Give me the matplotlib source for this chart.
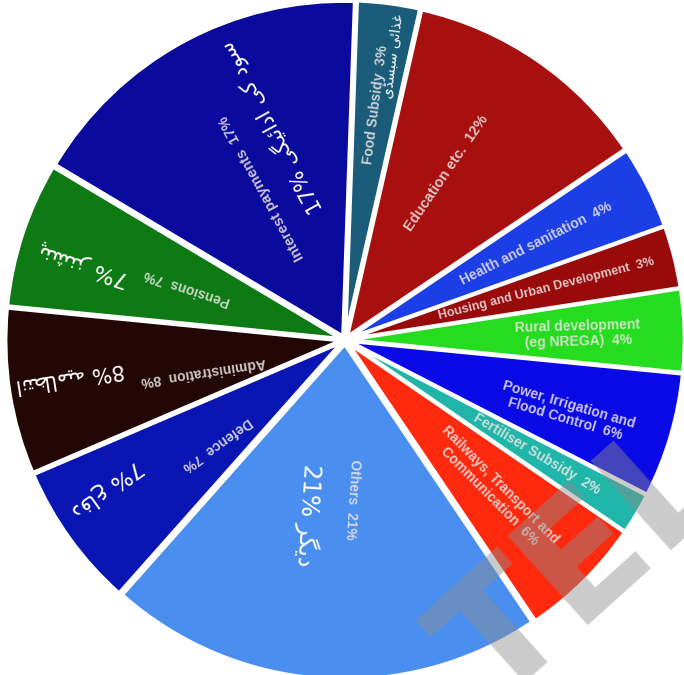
import math
import matplotlib
matplotlib.use("Agg")
import matplotlib.pyplot as plt

# ---------------- data ----------------
categories = ["Food Subsidy", "Education etc.", "Health and sanitation",
              "Housing and Urban Development", "Rural development\n(eg NREGA)",
              "Power, Irrigation and\nFlood Control", "Fertiliser Subsidy",
              "Railways, Transport and\nCommunication", "Others", "Defence",
              "Administration", "Pensions", "Interest payments"]
values = [3, 12, 4, 3, 4, 6, 2, 6, 21, 7, 8, 7, 17]
urdu_labels = ["غذائی سبسڈی", None, None, None, None, None, None, None,
               "دیگر", "دفاع", "انتظامیہ", "پنشنز", "سود کی ادائیگی"]
urdu_show_pct = [False, False, False, False, False, False, False, False,
                 True, True, True, True, True]

# ---------------- style ----------------
colors = ['#1b5c7a', '#a80f0f', '#1c3ee6', '#990a0a', '#26dc1e', '#0a0ae6',
          '#1fb5a8', '#ff2a0e', '#4a8ef0', '#0a16b4', '#230606', '#0d7a14',
          '#0a0a9c']
# (radial distance px, perpendicular offset px, fontsize)
en_pos = [(237, 0, 10), (195, -10, 10.5), (214, 0, 10), (208, 0, 9),
          (233, 0, 10), (233, 6, 10), (223, 0, 10), (212, 0, 10),
          (159, -18, 10), (165, -10, 10), (145, -10, 10), (166, 0, 10),
          (173, 0, 10.5)]
ur_pos = [(288, 11, 10), None, None, None, None, None, None, None,
          (177, 25, 17), (280, 19, 16), (277, 5, 15), (272, -10, 16),
          (222, 37, 15)]

UNIT = 335.0  # pixels per data unit (radius)

# Arabic presentation forms: isolated, final, initial, medial
_F = {
    'ا': (0xFE8D, 0xFE8E, None, None),
    'ب': (0xFE8F, 0xFE90, 0xFE91, 0xFE92),
    'ت': (0xFE95, 0xFE96, 0xFE97, 0xFE98),
    'د': (0xFEA9, 0xFEAA, None, None),
    'ذ': (0xFEAB, 0xFEAC, None, None),
    'ر': (0xFEAD, 0xFEAE, None, None),
    'ز': (0xFEAF, 0xFEB0, None, None),
    'س': (0xFEB1, 0xFEB2, 0xFEB3, 0xFEB4),
    'ش': (0xFEB5, 0xFEB6, 0xFEB7, 0xFEB8),
    'ظ': (0xFEC5, 0xFEC6, 0xFEC7, 0xFEC8),
    'ع': (0xFEC9, 0xFECA, 0xFECB, 0xFECC),
    'غ': (0xFECD, 0xFECE, 0xFECF, 0xFED0),
    'ف': (0xFED1, 0xFED2, 0xFED3, 0xFED4),
    'م': (0xFEE1, 0xFEE2, 0xFEE3, 0xFEE4),
    'ن': (0xFEE5, 0xFEE6, 0xFEE7, 0xFEE8),
    'و': (0xFEED, 0xFEEE, None, None),
    'ئ': (0xFE89, 0xFE8A, 0xFE8B, 0xFE8C),
    'پ': (0xFB56, 0xFB57, 0xFB58, 0xFB59),
    'ڈ': (0xFB88, 0xFB89, None, None),
    'ک': (0xFB8E, 0xFB8F, 0xFB90, 0xFB91),
    'گ': (0xFB92, 0xFB93, 0xFB94, 0xFB95),
    'ہ': (0xFEE9, 0xFEEA, 0xFEEB, 0xFEEC),
    'ی': (0xFBFC, 0xFBFD, 0xFBFE, 0xFBFF),
}


def shape_rtl(s):
    """Contextual shaping + reversal into visual order."""
    out = []
    n = len(s)
    dual = lambda c: c in _F and _F[c][2] is not None
    for i, c in enumerate(s):
        if c not in _F:
            out.append(c)
            continue
        prev = s[i - 1] if i > 0 else ''
        nxt = s[i + 1] if i < n - 1 else ''
        jp = dual(prev)
        jn = dual(c) and nxt in _F
        iso, fin, ini, med = _F[c]
        cp = med if (jp and jn) else fin if jp else ini if jn else iso
        out.append(chr(cp))
    return ''.join(reversed(out))


W, H = 684, 675
fig = plt.figure(figsize=(W / 100, H / 100), dpi=100)
ax = fig.add_axes([0, 0, 1, 1])
cx_px, cy_px = 345, 340

start = 88
ax.pie(values, colors=colors, startangle=start, counterclock=False,
       radius=1.0, center=(0, 0), explode=[0.013] * len(values),
       wedgeprops=dict(edgecolor='white', linewidth=2.5))
ax.set_xlim(-cx_px / UNIT, (W - cx_px) / UNIT)
ax.set_ylim(-(H - cy_px) / UNIT, cy_px / UNIT)
ax.set_aspect('equal')
ax.axis('off')

total = float(sum(values))
cum = 0.0
for i, v in enumerate(values):
    a1 = start - 360 * cum / total
    cum += v
    a2 = start - 360 * cum / total
    th = (a1 + a2) / 2.0
    t = math.radians(th)
    tp = math.radians(th - 90)

    def place(r, p):
        return ((r * math.cos(t) + p * math.cos(tp)) / UNIT,
                (r * math.sin(t) + p * math.sin(tp)) / UNIT)

    r, p, fs = en_pos[i]
    x, y = place(r, p)
    txt = categories[i] + "  " + f"{v}%"
    ax.text(x, y, txt, rotation=th % 360, rotation_mode='anchor',
            ha='center', va='center', multialignment='center',
            fontsize=fs, fontweight='bold', family='Liberation Sans',
            color='#ece6e6', alpha=0.85, linespacing=1.1)

    if urdu_labels[i] is not None:
        r, p, fs = ur_pos[i]
        x, y = place(r, p)
        utxt = shape_rtl(urdu_labels[i])
        if urdu_show_pct[i]:
            utxt = f"{v}% " + utxt
        ax.text(x, y, utxt, rotation=th % 360, rotation_mode='anchor',
                ha='center', va='center', fontsize=fs,
                family=['DejaVu Sans'], color='white')

# faint watermark in the lower right corner
wx, wy = (585 - cx_px) / UNIT, (cy_px - 565) / UNIT
ax.text(wx, wy, "TEL", rotation=42, rotation_mode='anchor', ha='center',
        va='center', fontsize=118, fontweight='bold', family='DejaVu Sans',
        color='#8c8c8c', alpha=0.45)

fig.savefig("out.png", dpi=100)
